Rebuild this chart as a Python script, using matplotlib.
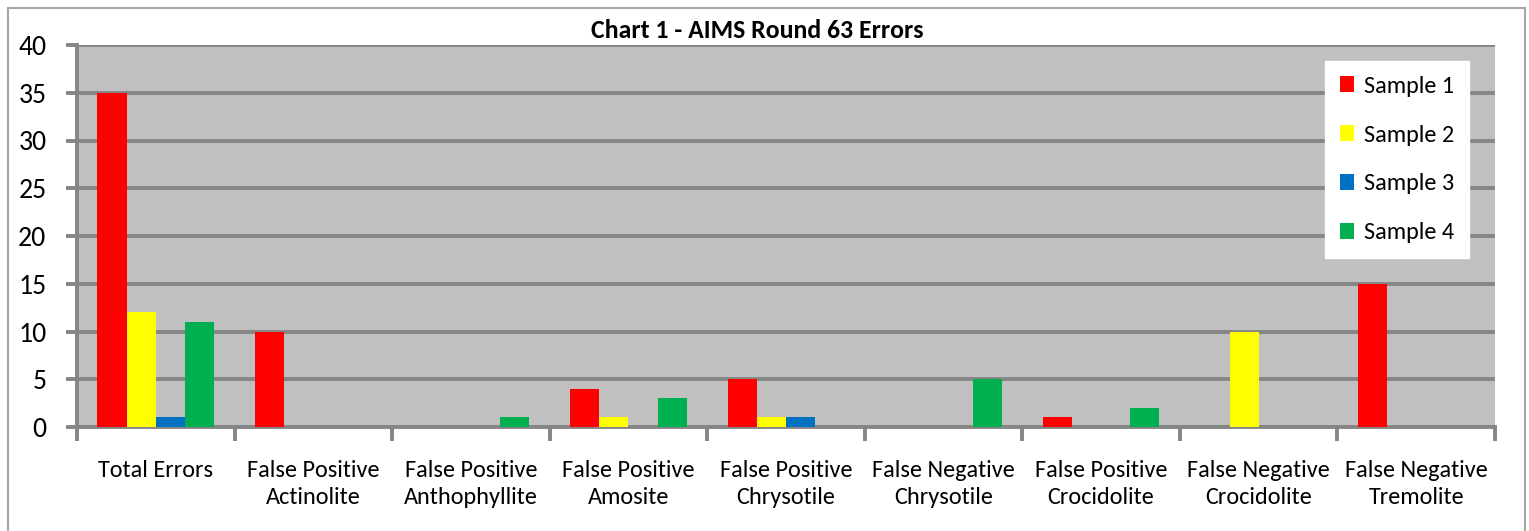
import matplotlib as mlp
mlp.use('Agg')
from matplotlib import pyplot as plt
from matplotlib.patches import Rectangle
import numpy as np

plt.rcParams['font.family'] = ['Carlito', 'Archivo Narrow', 'DejaVu Sans']

categories = ['Total Errors', 'False Positive\nActinolite', 'False Positive\nAnthophyllite',
              'False Positive\nAmosite', 'False Positive\nChrysotile', 'False Negative\nChrysotile',
              'False Positive\nCrocidolite', 'False Negative\nCrocidolite', 'False Negative\nTremolite']
series = ['Sample 1', 'Sample 2', 'Sample 3', 'Sample 4']
sample1 = [35, 10, 0, 4, 5, 0, 1, 0, 15]
sample2 = [12, 0, 0, 1, 1, 0, 0, 10, 0]
sample3 = [1, 0, 0, 0, 1, 0, 0, 0, 0]
sample4 = [11, 0, 1, 3, 0, 5, 2, 0, 0]
colors = ['#FF0000', '#FFFF00', '#0070C0', '#00B050']

W, H = 1529, 531
fig = plt.figure(figsize=(W / 100, H / 100), dpi=100)
fig.patches.append(Rectangle((8 / W, -0.05), (1525 - 8) / W, 1.05 - 8 / H,
                             transform=fig.transFigure, fill=False,
                             edgecolor='#A6A6A6', linewidth=1.5))

ax = fig.add_axes([77 / W, (H - 427) / H, (1495 - 77) / W, (427 - 45) / H])
ax.set_facecolor('#C0C0C0')
grid = '#868686'
lw = 2.8

x = np.arange(len(categories))
bw = 0.185
for i, (vals, c, name) in enumerate(zip([sample1, sample2, sample3, sample4], colors, series)):
    ax.bar(x + (i - 1.5) * bw, vals, width=bw, color=c, label=name, zorder=3)

ax.set_xlim(-0.5, len(categories) - 0.5)
ax.set_ylim(0, 40)
ax.set_yticks(range(0, 41, 5))
ax.yaxis.grid(True, color=grid, linewidth=lw, zorder=1)
ax.set_axisbelow(True)

ax.set_xticks(x)
ax.set_xticklabels(categories, fontsize=17.5, linespacing=1.35)
ax.set_xticks(np.arange(-0.5, len(categories)), minor=True)
ax.tick_params(axis='x', which='major', length=0, pad=24)
ax.tick_params(axis='x', which='minor', length=10, width=lw, color=grid)
ax.tick_params(axis='y', length=8, width=lw, color=grid, labelsize=20, pad=14)

for side in ['top', 'right']:
    ax.spines[side].set_visible(False)
for side in ['left', 'bottom']:
    ax.spines[side].set_color(grid)
    ax.spines[side].set_linewidth(lw)

fig.text(757 / W, 1 - 30 / H, 'Chart 1 - AIMS Round 63 Errors', ha='center', va='center',
         fontsize=18.5, fontweight='bold')

leg = ax.legend(loc='upper right', bbox_to_anchor=((1469 - 77) / (1495 - 77), 1 - (61 - 45) / (427 - 45)),
                fontsize=17.5, frameon=True, fancybox=False, handlelength=0.6, handleheight=0.6,
                handletextpad=0.4, labelspacing=1.15, borderpad=0.6, borderaxespad=0)
leg.get_frame().set_edgecolor('white')
leg.get_frame().set_facecolor('white')
leg.get_frame().set_alpha(1)

plt.savefig('out.png', dpi=100)
